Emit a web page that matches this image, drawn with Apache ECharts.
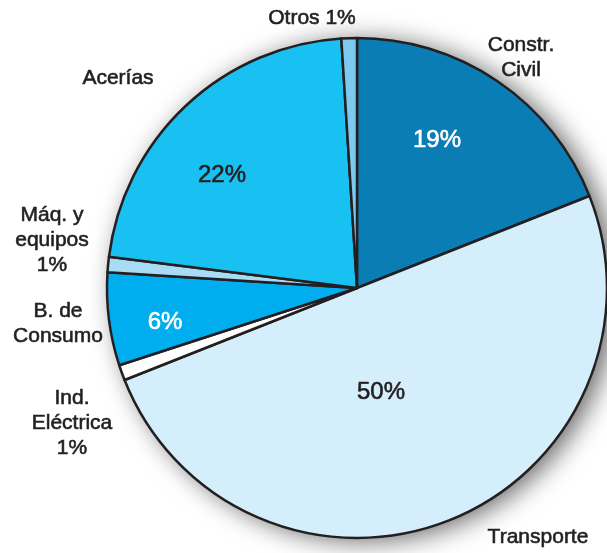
<!DOCTYPE html>
<html>
<head>
<meta charset="utf-8">
<script src="https://cdn.jsdelivr.net/npm/echarts@6/dist/echarts.min.js"></script>
<style>
  html, body { margin: 0; padding: 0; background: #fff; }
  #chart { width: 607px; height: 553px; }
</style>
</head>
<body>
<div id="chart"></div>
<script>
// sectores en orden horario desde las 12
const sectores = ['Constr.\nCivil', 'Transporte', 'Ind.\nEléctrica\n1%', 'B. de\nConsumo', 'Máq. y\nequipos\n1%', 'Acerías', 'Otros 1%']
const porcentajes = [19, 50, 1, 6, 1, 22, 1]
const colores = ['#0a7db5', '#d5eefb', '#ffffff', '#00aeef', '#a8dcf5', '#19c0f2', '#7ccbee']

// etiquetas dentro del sector (vacío = sin etiqueta)
const etiquetaInterior = ['19%', '50%', '', '6%', '', '22%', '']
const colorInterior = ['#ffffff', '#231f20', '', '#ffffff', '', '#231f20', '']

// posición de las etiquetas (centro del texto)
const posExterior = [[521, 58], [538, 537], [72, 423], [58, 324], [52, 240], [118, 78], [312, 18]]
const posInterior = [[437, 140], [381, 392], null, [165, 322], null, [222, 175], null]

const chart = echarts.init(document.getElementById('chart'))
const centro = [357, 288]
const radio = 250
const fuente = '"Liberation Sans", Arial, Helvetica, sans-serif'

chart.setOption({
  animation: false,
  series: [
    {
      // sombra del disco
      type: 'pie',
      center: centro,
      radius: radio,
      silent: true,
      z: 1,
      label: { show: false },
      labelLine: { show: false },
      itemStyle: {
        color: '#ffffff',
        shadowBlur: 26,
        shadowOffsetX: 8,
        shadowOffsetY: 3,
        shadowColor: 'rgba(0,0,0,0.6)',
      },
      data: [{ value: 1, name: 'fondo' }],
    },
    {
      type: 'pie',
      center: centro,
      radius: radio,
      startAngle: 90,
      clockwise: true,
      z: 2,
      avoidLabelOverlap: false,
      itemStyle: { borderColor: '#231f20', borderWidth: 2.5 },
      label: {
        show: true,
        position: 'inside',
        fontFamily: fuente,
        fontSize: 24,
        textBorderWidth: 0.6,
        formatter: (p) => etiquetaInterior[p.dataIndex],
      },
      labelLine: { show: false },
      labelLayout: (p) => {
        const pos = posInterior[p.dataIndex]
        if (!pos) return {}
        return { x: pos[0], y: pos[1], align: 'center', verticalAlign: 'middle' }
      },
      data: porcentajes.map((v, i) => ({
        value: v,
        name: sectores[i],
        itemStyle: { color: colores[i] },
        label: {
          color: colorInterior[i],
          textBorderColor: colorInterior[i] || 'transparent',
          show: etiquetaInterior[i] !== '',
        },
      })),
    },
    {
      // nombres de los sectores fuera del disco
      type: 'pie',
      center: centro,
      radius: radio,
      startAngle: 90,
      clockwise: true,
      silent: true,
      z: 3,
      avoidLabelOverlap: false,
      itemStyle: { color: 'transparent', borderWidth: 0 },
      label: {
        show: true,
        position: 'outside',
        fontFamily: fuente,
        fontSize: 21,
        lineHeight: 25,
        color: '#231f20',
        textBorderColor: '#231f20',
        textBorderWidth: 0.6,
        formatter: (p) => p.name,
      },
      labelLine: { show: false },
      labelLayout: (p) => {
        const pos = posExterior[p.dataIndex]
        return { x: pos[0], y: pos[1], align: 'center', verticalAlign: 'middle' }
      },
      data: porcentajes.map((v, i) => ({ value: v, name: sectores[i] })),
    },
  ],
})
</script>
</body>
</html>
